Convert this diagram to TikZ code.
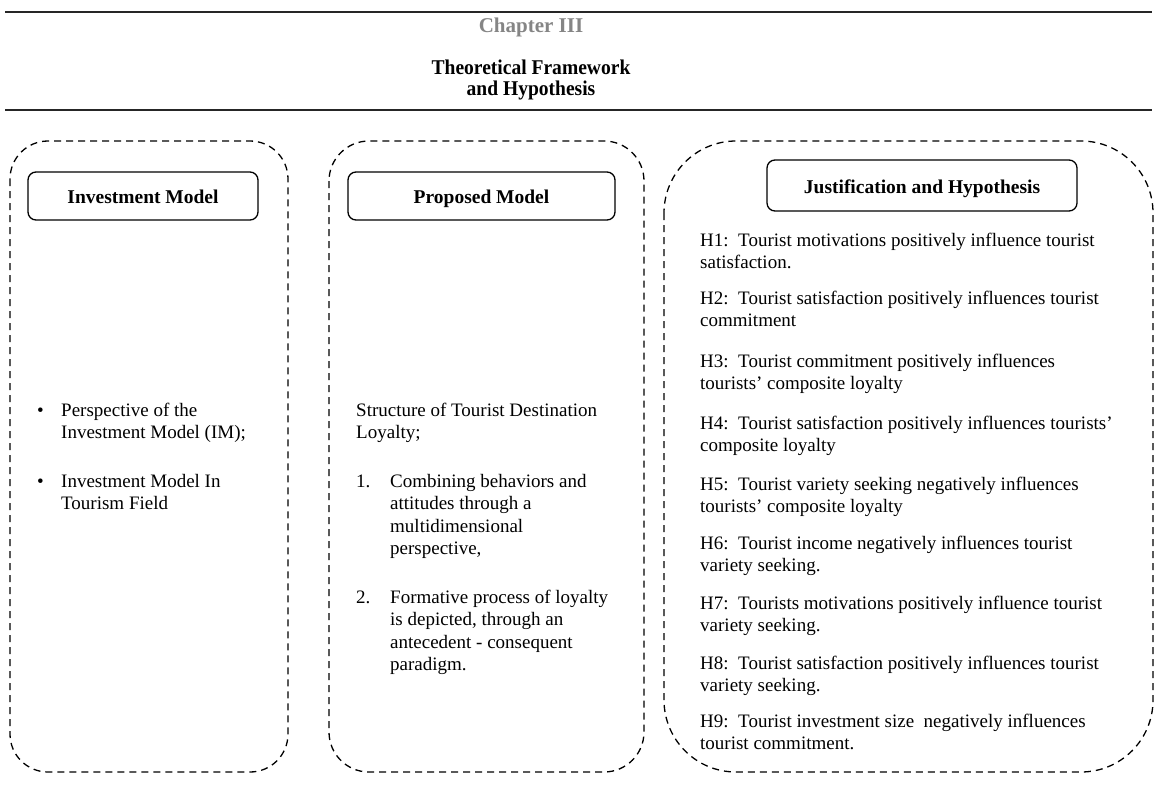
\documentclass[tikz,border=0pt]{standalone}
\usepackage{fontspec}
\setmainfont{Liberation Serif}
\newfontfamily\condfont[FakeStretch=0.93]{Liberation Serif}
\begin{document}
\begin{tikzpicture}[x=1pt,y=-1pt,
  rule/.style={line width=2.4pt,black!85},
  panel/.style={draw,line width=1.3pt,dash pattern=on 7pt off 5pt},
  header/.style={draw,line width=1.3pt,rounded corners=8pt,text height=15pt,text depth=0pt,
    font=\fontsize{19.5}{22}\selectfont\bfseries},
  body/.style={inner sep=0pt,align=left,anchor=base west,font=\fontsize{19}{22.5}\selectfont},
  itemlabel/.style={inner sep=0pt,anchor=base west,font=\fontsize{19}{22.5}\selectfont}]
\useasboundingbox (0,0) rectangle (1155,787);

% page rules and titles
\coordinate (r1a) at (5,12);  \coordinate (r1b) at (1152,12);
\coordinate (r2a) at (5,110); \coordinate (r2b) at (1152,110);
\draw[rule] (r1a) -- (r1b);
\draw[rule] (r2a) -- (r2b);
\node[inner sep=0pt,anchor=base,text=black!48,font=\fontsize{21}{24}\selectfont\bfseries] (chap) at (531,32) {Chapter III};
\node[inner sep=0pt,anchor=base,align=center,font=\condfont\fontsize{21}{20.5}\selectfont\bfseries] (title) at (531,95) {Theoretical Framework\\and Hypothesis};

% three dashed panels
\draw[panel,rounded corners=38pt] (10,141) rectangle (288,772);
\draw[panel,rounded corners=40pt] (329,141) rectangle (644,772);
\draw[panel,rounded corners=72pt] (664,141) rectangle (1153,772);

% panel headers
\node[header,minimum width=230pt,minimum height=48pt] (hIM) at (143,196) {Investment Model};
\node[header,minimum width=267pt,minimum height=48pt] (hPM) at (481.5,196) {Proposed Model};
\node[header,minimum width=310pt,minimum height=51pt] (hJH) at (922,185.5) {Justification and Hypothesis};

% investment model items (nodes sit on the baseline of their last line)
\node[itemlabel] (b1) at (37,416) {\textbullet};
\node[body] (im1) at (61,438.5) {Perspective of the\\Investment Model (IM);};
\node[itemlabel] (b2) at (37,487) {\textbullet};
\node[body] (im2) at (61,509.5) {Investment Model In\\Tourism Field};

% proposed model items
\node[body] (pm0) at (356,438.5) {Structure of Tourist Destination\\Loyalty;};
\node[itemlabel] (n1) at (356,487) {1.};
\node[body] (pm1) at (390,554.5) {Combining behaviors and\\attitudes through a\\multidimensional\\perspective,};
\node[itemlabel] (n2) at (356,603) {2.};
\node[body] (pm2) at (390,670.5) {Formative process of loyalty\\is depicted, through an\\antecedent - consequent\\paradigm.};

% hypotheses
\node[body] (H1) at (700,268.5) {H1:\ \ Tourist motivations positively influence tourist\\satisfaction.};
\node[body] (H2) at (700,326.5) {H2:\ \ Tourist satisfaction positively influences tourist\\commitment};
\node[body] (H3) at (700,389.5) {H3:\ \ Tourist commitment positively influences\\tourists’ composite loyalty};
\node[body] (H4) at (700,451.5) {H4:\ \ Tourist satisfaction positively influences tourists’\\composite loyalty};
\node[body] (H5) at (700,512.5) {H5:\ \ Tourist variety seeking negatively influences\\tourists’ composite loyalty};
\node[body] (H6) at (700,571.5) {H6:\ \ Tourist income negatively influences tourist\\variety seeking.};
\node[body] (H7) at (700,631.5) {H7:\ \ Tourists motivations positively influence tourist\\variety seeking.};
\node[body] (H8) at (700,691.5) {H8:\ \ Tourist satisfaction positively influences tourist\\variety seeking.};
\node[body] (H9) at (700,749.5) {H9:\ \ Tourist investment size\ \ negatively influences\\tourist commitment.};
\end{tikzpicture}
\end{document}
